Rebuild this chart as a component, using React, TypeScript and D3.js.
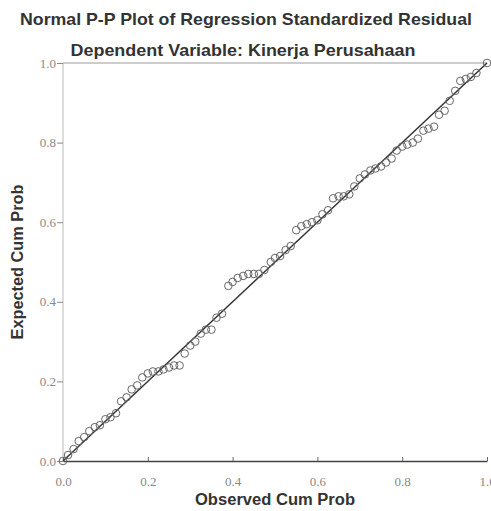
import React, { useEffect, useRef } from "react";
import * as d3 from "d3";

const observed = [
	0.0, 0.012, 0.025, 0.037, 0.05, 0.062, 0.075, 0.087, 0.1, 0.112, 0.125, 0.137, 0.15, 0.162, 0.175, 0.187, 0.2,
	0.212, 0.225, 0.237, 0.25, 0.262, 0.275, 0.287, 0.3, 0.312, 0.325, 0.337, 0.35, 0.362, 0.375, 0.39, 0.4, 0.412,
	0.425, 0.437, 0.45, 0.462, 0.475, 0.49, 0.5, 0.512, 0.525, 0.537, 0.55, 0.562, 0.575, 0.587, 0.6, 0.612, 0.625,
	0.637, 0.65, 0.662, 0.675, 0.687, 0.7, 0.712, 0.725, 0.737, 0.75, 0.762, 0.775, 0.787, 0.8, 0.812, 0.825, 0.837,
	0.85, 0.862, 0.875, 0.887, 0.9, 0.912, 0.925, 0.937, 0.95, 0.962, 0.975, 1.0,
];
const expected = [
	0.0, 0.015, 0.03, 0.05, 0.06, 0.075, 0.085, 0.09, 0.105, 0.11, 0.12, 0.15, 0.16, 0.18, 0.19, 0.21, 0.22, 0.225,
	0.225, 0.23, 0.235, 0.24, 0.24, 0.27, 0.29, 0.3, 0.32, 0.33, 0.33, 0.36, 0.37, 0.44, 0.45, 0.46, 0.465, 0.47, 0.47,
	0.47, 0.48, 0.5, 0.51, 0.515, 0.53, 0.54, 0.58, 0.59, 0.595, 0.6, 0.605, 0.62, 0.63, 0.66, 0.665, 0.665, 0.67,
	0.69, 0.71, 0.72, 0.73, 0.735, 0.74, 0.75, 0.76, 0.78, 0.79, 0.795, 0.8, 0.81, 0.83, 0.835, 0.84, 0.87, 0.88,
	0.905, 0.93, 0.955, 0.96, 0.965, 0.975, 1.0,
];
const ticks = [0, 0.2, 0.4, 0.6, 0.8, 1.0];

const W = 491,
	H = 511;

function draw(ref: SVGSVGElement | null) {
	if (!ref) return;
	const svg = d3.select(ref);
	svg.selectAll("*").remove();

	const x = d3.scaleLinear().domain([0, 1]).range([63, 487]);
	const y = d3.scaleLinear().domain([0, 1]).range([461, 63]);
	const bold = "'Liberation Sans', Arial, sans-serif";
	const tickFont = "'Liberation Serif', 'Times New Roman', serif";

	svg.append("rect").attr("width", W).attr("height", H).attr("fill", "#fff");

	// titles
	svg.append("text")
		.attr("x", 246)
		.attr("y", 25)
		.attr("text-anchor", "middle")
		.attr("textLength", 452)
		.attr("lengthAdjust", "spacingAndGlyphs")
		.style("font", `bold 17px ${bold}`)
		.attr("fill", "#333")
		.text("Normal P-P Plot of Regression Standardized Residual");
	svg.append("text")
		.attr("x", 243)
		.attr("y", 56)
		.attr("text-anchor", "middle")
		.attr("textLength", 345)
		.attr("lengthAdjust", "spacingAndGlyphs")
		.style("font", `bold 17px ${bold}`)
		.attr("fill", "#333")
		.text("Dependent Variable: Kinerja Perusahaan");

	// frame: top and left light lines
	svg.append("line").attr("x1", x(0)).attr("x2", x(1)).attr("y1", y(1)).attr("y2", y(1)).attr("stroke", "#999");
	svg.append("line").attr("x1", x(0)).attr("x2", x(0)).attr("y1", y(0)).attr("y2", y(1)).attr("stroke", "#bbb");

	// x axis
	const xAxis = svg
		.append("g")
		.attr("transform", `translate(0, ${y(0)})`)
		.call(d3.axisBottom(x).tickValues(ticks).tickSize(-4).tickSizeOuter(0).tickFormat(d3.format(".1f")));
	xAxis.select(".domain").attr("stroke", "#444").attr("stroke-width", 1.6);
	xAxis.selectAll(".tick line").attr("stroke", "#666");
	xAxis.selectAll("text")
		.attr("y", 16)
		.attr("fill", "#888")
		.style("font", `13px ${tickFont}`);

	// y axis
	const yAxis = svg
		.append("g")
		.attr("transform", `translate(${x(0)}, 0)`)
		.call(d3.axisLeft(y).tickValues(ticks).tickSize(6).tickSizeOuter(0).tickFormat(d3.format(".1f")));
	yAxis.select(".domain").remove();
	yAxis.selectAll(".tick line").attr("stroke", "#888");
	yAxis.selectAll("text")
		.attr("x", -7)
		.attr("fill", "#888")
		.style("font", `13px ${tickFont}`);

	// axis titles
	svg.append("text")
		.attr("x", 275)
		.attr("y", 505)
		.attr("text-anchor", "middle")
		.attr("textLength", 160)
		.attr("lengthAdjust", "spacingAndGlyphs")
		.style("font", `bold 16px ${bold}`)
		.attr("fill", "#333")
		.text("Observed Cum Prob");
	svg.append("text")
		.attr("transform", `translate(23, ${y(0.5)}) rotate(-90)`)
		.attr("text-anchor", "middle")
		.attr("textLength", 155)
		.attr("lengthAdjust", "spacingAndGlyphs")
		.style("font", `bold 16px ${bold}`)
		.attr("fill", "#333")
		.text("Expected Cum Prob");

	// reference line
	svg.append("line")
		.attr("x1", x(0))
		.attr("y1", y(0))
		.attr("x2", x(1))
		.attr("y2", y(1))
		.attr("stroke", "#333")
		.attr("stroke-width", 1.5);

	// points
	svg.append("g")
		.selectAll("circle")
		.data(observed.map((o, i) => [o, expected[i]]))
		.join("circle")
		.attr("cx", (d) => x(d[0]))
		.attr("cy", (d) => y(d[1]))
		.attr("r", 3.8)
		.attr("fill", "none")
		.attr("stroke", "#666")
		.attr("stroke-width", 1);
}

export default function App() {
	const ref = useRef<SVGSVGElement>(null);
	useEffect(() => {
		draw(ref.current);
	}, []);
	return (
		<svg
			ref={ref}
			width={W}
			height={H}
			style={{ position: "absolute", left: 0, top: 0 }}
			viewBox={`0 0 ${W} ${H}`}
		/>
	);
}
